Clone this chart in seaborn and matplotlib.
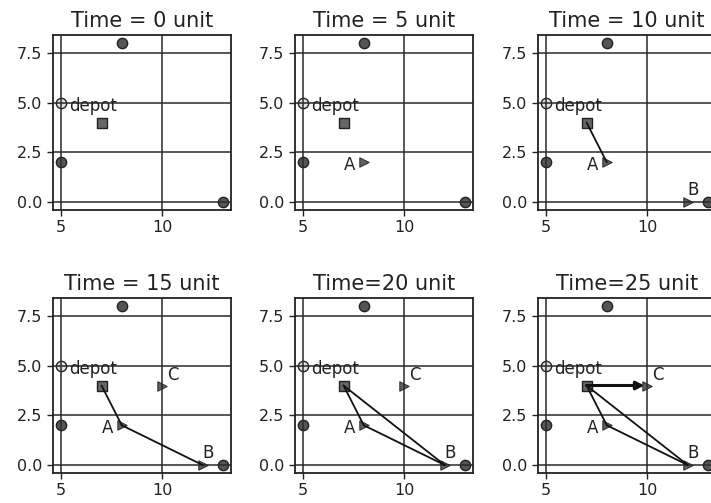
import matplotlib
matplotlib.use("Agg")
import matplotlib.pyplot as plt
import seaborn as sns
import pandas as pd

# ---- data ----
cust_x = [5, 5, 8, 13]
cust_y = [5, 2, 8, 0]
cust_fill = ["#e0e0e0", "#555555", "#555555", "#555555"]
depot_x = [7]
depot_y = [4]
veh_names = ["A", "B", "C"]
veh_x = [8, 12, 10]
veh_y = [2, 0, 4]
veh_start = [5, 10, 15]
times = [0, 5, 10, 15, 20, 25]
titles = ["Time = 0 unit", "Time = 5 unit", "Time = 10 unit",
          "Time = 15 unit", "Time=20 unit", "Time=25 unit"]
# route segments shown in each panel: (from, to)
routes = [
    [],
    [],
    [("depot", "A")],
    [("depot", "A"), ("A", "B")],
    [("depot", "A"), ("A", "B"), ("B", "depot")],
    [("depot", "A"), ("A", "B"), ("B", "depot"), ("depot", "C")],
]
xticks = [5, 10]
yticks = [0.0, 2.5, 5.0, 7.5]
label_offsets = {"A": (-0.4, -0.15, "right"), "B": (0.25, 0.6, "center"), "C": (0.55, 0.55, "center")}

sns.set_style("white")
plt.rcParams["font.family"] = ["DejaVu Sans"]

W, H = 711, 503
fig = plt.figure(figsize=(W / 100, H / 100), dpi=100)
lefts = [53, 295, 538]
tops = [35, 298]
aw, ah = 178, 175

pts = {"depot": (depot_x[0], depot_y[0])}
for n, x, y in zip(veh_names, veh_x, veh_y):
    pts[n] = (x, y)

for i, (t, title) in enumerate(zip(times, titles)):
    r, c = divmod(i, 3)
    ax = fig.add_axes([lefts[c] / W, 1 - (tops[r] + ah) / H, aw / W, ah / H])
    ax.set_axisbelow("line")
    ax.grid(True, color="#2a2a2a", linewidth=1.1)
    # customers
    for cx, cy, cf in zip(cust_x, cust_y, cust_fill):
        sns.scatterplot(x=[cx], y=[cy], ax=ax, s=55, color=cf,
                        edgecolor="#222222", linewidth=1.0, zorder=1)
    # depot
    sns.scatterplot(x=depot_x, y=depot_y, ax=ax, marker="s", s=60,
                    color="#666666", edgecolor="#222222", linewidth=1.0, zorder=1)
    ax.text(5.4, 4.85, "depot", ha="left", va="center", fontsize=12, color="#222222")
    # vehicles
    vis = [k for k in range(len(veh_names)) if veh_start[k] <= t]
    if vis:
        sns.scatterplot(x=[veh_x[k] for k in vis], y=[veh_y[k] for k in vis], ax=ax,
                        marker=">", s=45, color="#606060", edgecolor="#333333",
                        linewidth=0.8, zorder=1)
        for k in vis:
            dx, dy, ha = label_offsets[veh_names[k]]
            ax.text(veh_x[k] + dx, veh_y[k] + dy, veh_names[k], ha=ha, va="center",
                    fontsize=12, color="#222222")
    # routes
    for a, b in routes[i]:
        (x0, y0), (x1, y1) = pts[a], pts[b]
        if b == "C":
            ax.annotate("", xy=(x1, y1), xytext=(x0, y0),
                        arrowprops=dict(arrowstyle="-|>", color="#111111", lw=2.2,
                                        shrinkA=0, shrinkB=2, mutation_scale=12))
        else:
            ax.plot([x0, x1], [y0, y1], color="#111111", linewidth=1.3, zorder=2)
    ax.set_xlim(4.6, 13.4)
    ax.set_ylim(-0.4, 8.4)
    ax.set_xticks(xticks)
    ax.set_yticks(yticks)
    ax.set_yticklabels([f"{v:.1f}" for v in yticks])
    ax.tick_params(axis="both", labelsize=11.5, length=4, width=1, color="#222222",
                   left=True, bottom=True, labelcolor="#222222")
    for sp in ax.spines.values():
        sp.set_color("#222222")
        sp.set_linewidth(1.3)
    ax.set_xlabel("")
    ax.set_ylabel("")
    ax.set_title(title, fontsize=15, color="#222222", pad=6)

fig.savefig("out.png", dpi=100)
